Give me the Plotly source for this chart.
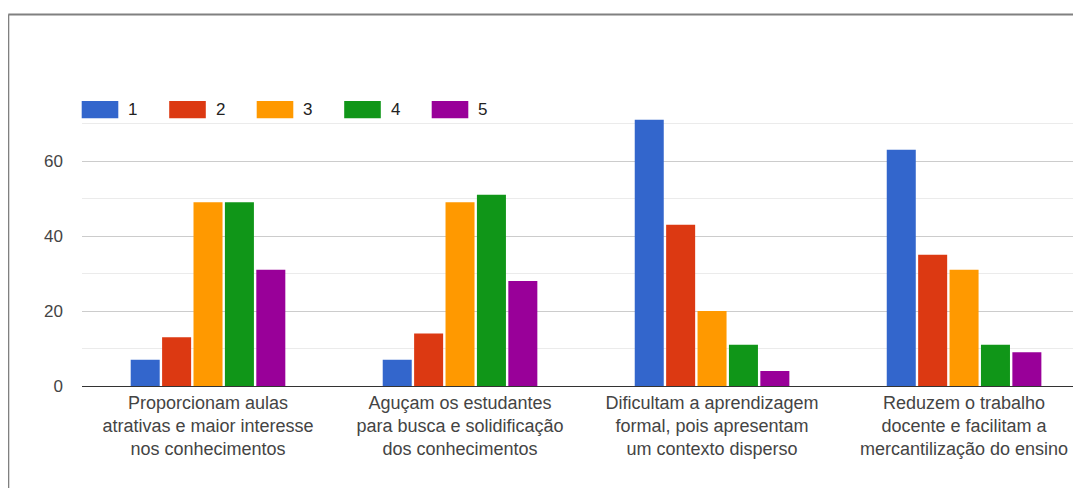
import plotly.graph_objects as go

categories = [
    "Proporcionam aulas<br>atrativas e maior interesse<br>nos conhecimentos",
    "Aguçam os estudantes<br>para busca e solidificação<br>dos conhecimentos",
    "Dificultam a aprendizagem<br>formal, pois apresentam<br>um contexto disperso",
    "Reduzem o trabalho<br>docente e facilitam a<br>mercantilização do ensino",
]
series_names = ["1", "2", "3", "4", "5"]
values_1 = [7, 7, 71, 63]
values_2 = [13, 14, 43, 35]
values_3 = [49, 49, 20, 31]
values_4 = [49, 51, 11, 11]
values_5 = [31, 28, 4, 9]
series_values = [values_1, values_2, values_3, values_4, values_5]
colors = ["#3366cc", "#dc3912", "#ff9900", "#109618", "#990099"]
y_ticks = [0, 20, 40, 60]

OFF = 8  # page body margin
W, H = 1081 - OFF, 488 - OFF
# plot area in screen pixels
SX0, SX1, SY0, SY1 = 82, 1081, 116, 386
L, T = SX0 - OFF, SY0 - OFF
R = W - (SX1 - OFF)
B = H - (SY1 - OFF)
pw, ph = SX1 - SX0, SY1 - SY0

def px(x):
    return (x - SX0) / pw

def py(y):
    return (SY1 - y) / ph

fig = go.Figure()
for name, vals, col in zip(series_names, series_values, colors):
    fig.add_trace(go.Bar(x=categories, y=vals, name=name, marker_color=col,
                         marker_line_width=0, showlegend=False))

FONT = "Liberation Sans, Arial, sans-serif"
shapes = []
annotations = []
# manual legend
lx0, lstep, sw, sy0, sy1 = 81.7, 87.5, 36.6, 101, 118.3
for i, (name, col) in enumerate(zip(series_names, colors)):
    x0 = lx0 + i * lstep
    shapes.append(dict(type="rect", xref="paper", yref="paper",
                       x0=px(x0), x1=px(x0 + sw), y0=py(sy1), y1=py(sy0),
                       fillcolor=col, line=dict(width=0)))
    annotations.append(dict(xref="paper", yref="paper", x=px(x0 + sw + 8),
                            y=py((sy0 + sy1) / 2), text=name, showarrow=False,
                            xanchor="left", yanchor="middle",
                            font=dict(family=FONT, size=17, color="#222")))
# outer border (top and left lines of the card)
shapes.append(dict(type="line", xref="paper", yref="paper",
                   x0=px(8.3), x1=px(1100), y0=py(14.5), y1=py(14.5),
                   line=dict(color="#808080", width=2)))
shapes.append(dict(type="line", xref="paper", yref="paper",
                   x0=px(8.3), x1=px(8.3), y0=py(14.5), y1=py(520),
                   line=dict(color="#808080", width=2)))

fig.update_layout(
    width=W, height=H,
    margin=dict(l=L, r=R, t=T, b=B, pad=0),
    paper_bgcolor="white", plot_bgcolor="white",
    barmode="group", bargap=0.377, bargroupgap=0.076,
    font=dict(family=FONT, size=18, color="#444"),
    shapes=shapes, annotations=annotations,
    xaxis=dict(range=[-0.5, 3.464], showgrid=False, showline=True,
               linecolor="#333", linewidth=1, ticks="",
               tickfont=dict(family=FONT, size=18, color="#444")),
    yaxis=dict(range=[0, 72], tickvals=y_ticks, showgrid=True,
               gridcolor="#cccccc", gridwidth=1,
               minor=dict(tickvals=[10, 30, 50, 70], showgrid=True,
                          gridcolor="#ebebeb", gridwidth=1),
               zeroline=True, zerolinecolor="#333", zerolinewidth=1,
               ticks="", ticklabelstandoff=18,
               tickfont=dict(family=FONT, size=17, color="#444")),
)

fig.write_html("out.html")
